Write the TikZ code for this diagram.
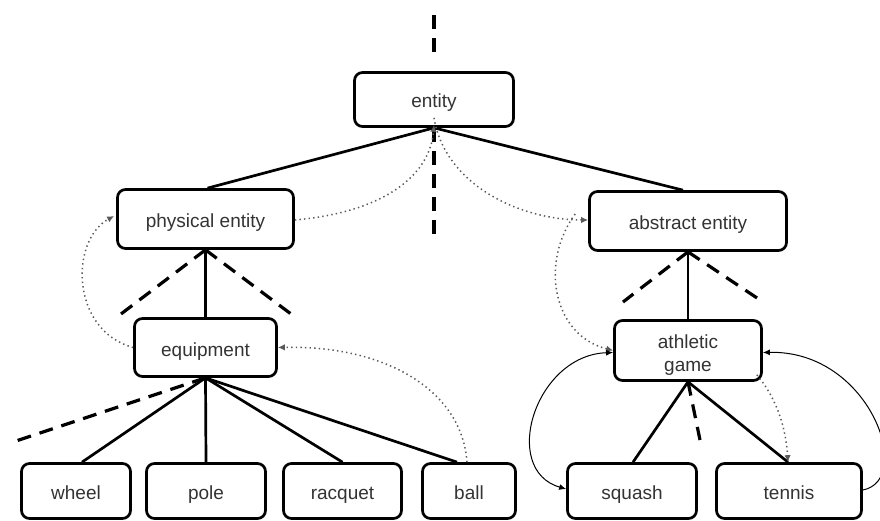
\documentclass[tikz,border=0pt]{standalone}
\usepackage{fontspec}
\setmainfont{Liberation Sans}
\usetikzlibrary{arrows.meta}
\begin{document}
\begin{tikzpicture}[x=1pt,y=-1pt,
  boxbase/.style={draw, line width=2.7pt, rounded corners=8pt, inner sep=0pt,
    font=\fontsize{19}{23}\selectfont, text=black!80, align=center},
  box/.style={boxbase, text height=17pt, text depth=0pt},
  solidline/.style={line width=2.7pt},
  dashline/.style={line width=3.2pt, dash pattern=on 14pt off 9pt},
  dotarrow/.style={line width=1.5pt, black!65, dash pattern=on 1.4pt off 3.2pt,
    -{Latex[length=7pt,width=6.5pt]}},
  thinarrow/.style={line width=1pt, -{Latex[length=7pt,width=6pt]}},
  thinarrowboth/.style={line width=1pt, {Latex[length=7pt,width=6pt]}-{Latex[length=7pt,width=6pt]}}]
\useasboundingbox (0,0) rectangle (880,521);

% nodes
\node[box, minimum width=159pt, minimum height=54pt] (entity) at (434,99.5) {entity};
\node[box, minimum width=176pt, minimum height=59pt] (physical) at (205.5,219) {physical entity};
\node[box, minimum width=142pt, minimum height=58pt] (equipment) at (205.5,347.5) {equipment};
\node[box, minimum width=197pt, minimum height=59pt] (abstract) at (688,221) {abstract entity};
\node[boxbase, text height=41pt, text depth=0pt, minimum width=147pt, minimum height=60pt] (athletic) at (688,350.5) {athletic\\game};
\node[box, minimum width=109pt, minimum height=55pt] (wheel) at (76,491) {wheel};
\node[box, minimum width=119pt, minimum height=55pt] (pole) at (206,491) {pole};
\node[box, minimum width=118pt, minimum height=55pt] (racquet) at (342.5,491) {racquet};
\node[box, minimum width=93pt, minimum height=55pt] (ball) at (469,491) {ball};
\node[box, minimum width=129pt, minimum height=55pt] (squash) at (632,491) {squash};
\node[box, minimum width=145pt, minimum height=55pt] (tennis) at (789,491) {tennis};

% free ends of dashed lines
\coordinate (topA) at (434,15);
\coordinate (topB) at (434,58);
\coordinate (entDn) at (434,240);
\coordinate (phL) at (117,317);
\coordinate (phR) at (295,317);
\coordinate (abL) at (623,302);
\coordinate (abR) at (763,302);
\coordinate (eqL) at (13,442);
\coordinate (agD) at (700,440);

% solid tree edges
\draw[solidline] (entity.south) -- ([xshift=2pt]physical.north);
\draw[solidline] (entity.south) -- ([xshift=-5pt]abstract.north);
\draw[solidline] (physical.south) -- (equipment.north);
\draw[solidline] (abstract.south) -- (athletic.north);
\draw[solidline] (equipment.south) -- ([xshift=6pt]wheel.north);
\draw[solidline] (equipment.south) -- (pole.north);
\draw[solidline] (equipment.south) -- (racquet.north);
\draw[solidline] (equipment.south) -- ([xshift=-12pt]ball.north);
\draw[solidline] (athletic.south) -- ([xshift=1pt]squash.north);
\draw[solidline] (athletic.south) -- ([xshift=-1pt]tennis.north);

% dashed lines
\draw[dashline] (topA) -- (topB);
\draw[dashline] (entity.south) -- (entDn);
\draw[dashline] (physical.south) -- (phL);
\draw[dashline] (physical.south) -- (phR);
\draw[dashline] (abstract.south) -- (abL);
\draw[dashline] (abstract.south) -- (abR);
\draw[dashline] (equipment.south) -- (eqL);
\draw[dashline] (athletic.south) -- (agD);

% dotted arrows
\draw[dotarrow] ([yshift=-1pt]physical.east) .. controls (385,212) and (430,175) .. ([yshift=3pt]entity.south);
\draw[dotarrow] ([yshift=10pt]entity.south) .. controls (445,185) and (520,220) .. ([yshift=1pt]abstract.west);
\draw[dotarrow] (equipment.west) .. controls (70,330) and (70,240) .. ([xshift=-2pt,yshift=3pt]physical.west);
\draw[dotarrow] ([xshift=-2pt]ball.north) .. controls (462,390) and (385,345) .. (equipment.east);
\draw[dotarrow] ([xshift=-13pt,yshift=7pt]abstract.west) .. controls (540,262) and (552,335) .. (athletic.west);
\draw[dotarrow] ([xshift=-6pt,yshift=7pt]athletic.south east) .. controls (778,400) and (786,430) .. ([xshift=-1pt]tennis.north);

% thin solid arrows
\draw[thinarrowboth] ([yshift=-2pt]athletic.west) .. controls (535,355) and (500,470) .. ([yshift=2pt]squash.west);
\draw[thinarrow] ([yshift=1pt]tennis.east) .. controls (915,480) and (870,350) .. ([yshift=-2pt]athletic.east);
\end{tikzpicture}
\end{document}
